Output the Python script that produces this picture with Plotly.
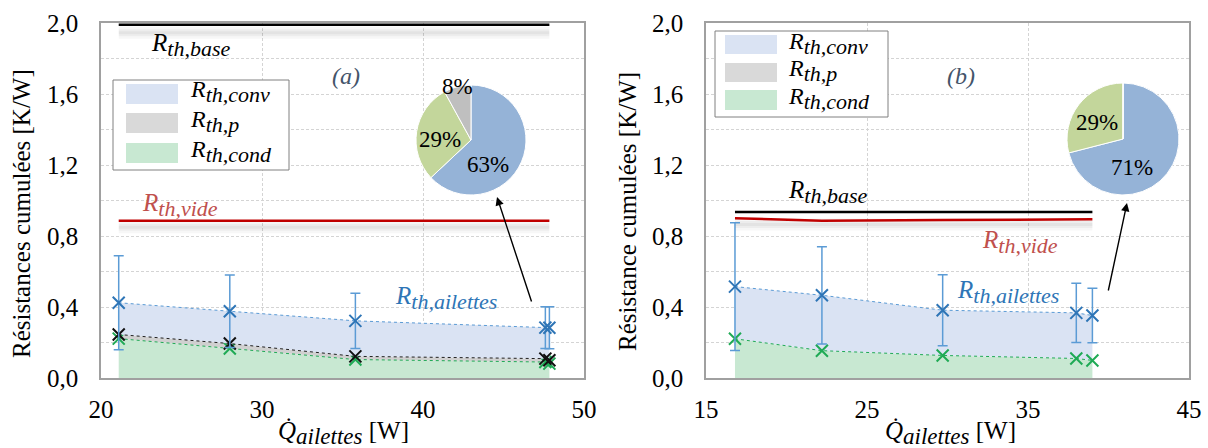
import plotly.graph_objects as go

W, H = 1208, 448

# ---------------- data ----------------
# Panel (a)
qa = [21.1, 28.0, 35.8, 47.6, 47.85]
ra_tot = [0.424, 0.376, 0.322, 0.284, 0.283]      # R_th,ailettes (cumulated total)
ra_err = [0.265, 0.204, 0.156, 0.118, 0.118]
ra_p = [0.245, 0.194, 0.122, 0.109, 0.100]         # cond + p (cumulated)
ra_cond = [0.222, 0.166, 0.104, 0.090, 0.081]
ra_base = [1.99, 1.99]
ra_vide = [0.886, 0.886]

# Panel (b)
qb = [16.8, 22.2, 29.7, 38.0, 39.0]
rb_tot = [0.515, 0.466, 0.382, 0.367, 0.352]
rb_err = [0.360, 0.274, 0.200, 0.167, 0.153]
rb_cond = [0.221, 0.154, 0.127, 0.110, 0.099]
rb_base = [0.935, 0.935]
rb_vide = [0.900, 0.886, 0.890, 0.893, 0.894]

# Pies
pie_labels = ["R_th,conv", "R_th,cond", "R_th,p"]
pie_a = [63, 29, 8]
pie_b = [71, 29, 0]

# ---------------- styles ----------------
BLUE = "#2E75B6"
BLUE_ERR = "#5B9BD5"
GREEN = "#1FAA55"
FILL_CONV = "#DAE3F3"
FILL_P = "#D0D0D0"
FILL_COND = "#C8E8D2"
RED = "#C00000"
SERIF = "Liberation Serif"


def X(p):
    return p / W


def Y(p):
    return 1 - p / H


def rlab(sub, subsize=22):
    return f"<i>R<sub><span style='font-size:{subsize}px'>{sub}</span></sub></i>"


fig = go.Figure()


def shadow(xs, ys, off, xa, ya):
    for w, a in [(12, 0.03), (7, 0.04), (3, 0.04)]:
        fig.add_trace(go.Scatter(x=xs, y=[v - off for v in ys], xaxis=xa, yaxis=ya, mode="lines",
                                 line=dict(color=f"rgba(0,0,0,{a})", width=w),
                                 showlegend=False, hoverinfo="skip"))


def marker(color):
    return dict(symbol="x-thin", size=12, line=dict(width=2, color=color))


# ----- panel (a) -----
shadow([qa[0], qa[-1]], ra_base, 0.045, "x", "y")
shadow([qa[0], qa[-1]], ra_vide, 0.036, "x", "y")
fig.add_trace(go.Scatter(x=qa, y=ra_cond, xaxis="x", yaxis="y", mode="lines+markers", fill="tozeroy",
                         fillcolor=FILL_COND, line=dict(color=GREEN, width=1, dash="dot"),
                         marker=marker(GREEN), showlegend=False))
fig.add_trace(go.Scatter(x=qa, y=ra_p, xaxis="x", yaxis="y", mode="lines+markers", fill="tonexty",
                         fillcolor=FILL_P, line=dict(color="#202020", width=1, dash="dot"),
                         marker=marker("#111111"), showlegend=False))
fig.add_trace(go.Scatter(x=qa, y=ra_tot, xaxis="x", yaxis="y", mode="lines+markers", fill="tonexty",
                         fillcolor=FILL_CONV, line=dict(color=BLUE_ERR, width=1, dash="dot"),
                         marker=marker(BLUE),
                         error_y=dict(type="data", array=ra_err, color=BLUE_ERR, thickness=1.5, width=5),
                         showlegend=False))
fig.add_trace(go.Scatter(x=[qa[0], qa[-1]], y=ra_base, xaxis="x", yaxis="y", mode="lines",
                         line=dict(color="black", width=2.5), showlegend=False))
fig.add_trace(go.Scatter(x=[qa[0], qa[-1]], y=ra_vide, xaxis="x", yaxis="y", mode="lines",
                         line=dict(color=RED, width=2.5), showlegend=False))

# ----- panel (b) -----
shadow([qb[0], qb[-1]], [rb_vide[0], rb_vide[0]], 0.035, "x2", "y2")
fig.add_trace(go.Scatter(x=qb, y=rb_cond, xaxis="x2", yaxis="y2", mode="lines+markers", fill="tozeroy",
                         fillcolor=FILL_COND, line=dict(color=GREEN, width=1, dash="dot"),
                         marker=marker(GREEN), showlegend=False))
fig.add_trace(go.Scatter(x=qb, y=rb_tot, xaxis="x2", yaxis="y2", mode="lines+markers", fill="tonexty",
                         fillcolor=FILL_CONV, line=dict(color=BLUE_ERR, width=1, dash="dot"),
                         marker=marker(BLUE),
                         error_y=dict(type="data", array=rb_err, color=BLUE_ERR, thickness=1.5, width=5),
                         showlegend=False))
fig.add_trace(go.Scatter(x=[qb[0], qb[-1]], y=rb_base, xaxis="x2", yaxis="y2", mode="lines",
                         line=dict(color="black", width=2.5), showlegend=False))
fig.add_trace(go.Scatter(x=qb, y=rb_vide, xaxis="x2", yaxis="y2", mode="lines",
                         line=dict(color=RED, width=2.5), showlegend=False))

# ----- pies -----
PIE_COLORS = ["#95B3D7", "#C3D69B", "#BFBFBF"]
fig.add_trace(go.Pie(values=pie_a, labels=pie_labels, sort=False, direction="clockwise", rotation=0,
                     marker=dict(colors=PIE_COLORS, line=dict(color="white", width=1)),
                     textinfo="none", hoverinfo="skip", showlegend=False,
                     domain=dict(x=[X(416), X(526)], y=[Y(195), Y(85)])))
fig.add_trace(go.Pie(values=pie_b, labels=pie_labels, sort=False, direction="clockwise", rotation=0,
                     marker=dict(colors=PIE_COLORS, line=dict(color="white", width=1)),
                     textinfo="none", hoverinfo="skip", showlegend=False,
                     domain=dict(x=[X(1067), X(1179)], y=[Y(195), Y(83)])))

# ---------------- axes ----------------
axis_common = dict(
    showline=True, mirror=True, linecolor="#A0A0A0", linewidth=1.5,
    showgrid=True, gridcolor="#D4D4D4", griddash="3px,2px", gridwidth=1,
    ticks="", zeroline=False, automargin=False,
    tickfont=dict(family=SERIF, size=25, color="black"),
)
yaxis_common = dict(axis_common, range=[0, 2], dtick=0.4, tick0=0, tickformat=".1f",
                    minor=dict(dtick=0.2, showgrid=True, gridcolor="#D4D4D4", griddash="3px,2px"),
                    ticklabelstandoff=16, domain=[Y(378), Y(23)])
fig.update_layout(
    width=W, height=H,
    margin=dict(l=0, r=0, t=0, b=0, pad=0, autoexpand=False),
    paper_bgcolor="white", plot_bgcolor="white",
    separators=", ",
    font=dict(family=SERIF),
    xaxis=dict(axis_common, range=[20, 50], dtick=10, domain=[X(101), X(584)], anchor="y",
               ticklabelstandoff=8),
    yaxis=dict(yaxis_common, anchor="x"),
    xaxis2=dict(axis_common, range=[15, 45], dtick=10, tick0=15, domain=[X(706), X(1189)], anchor="y2",
                ticklabelstandoff=8),
    yaxis2=dict(yaxis_common, anchor="x2"),
)

# ---------------- annotations ----------------
ann = []


def txt(x, y, text, size=25, color="black", angle=0, xanchor="center"):
    ann.append(dict(x=X(x), y=Y(y), xref="paper", yref="paper", text=text, showarrow=False,
                    xanchor=xanchor, yanchor="middle", textangle=angle,
                    font=dict(family=SERIF, size=size, color=color)))


# axis titles
txt(21, 214, "Résistances cumulées [K/W]", size=25, angle=-90)
txt(627, 212, "Résistance cumulées [K/W]", size=25, angle=-90)
xtitle = "<i>Q\u0307</i><sub><span style='font-size:23px'><i>ailettes</i></span></sub> [W]"
txt(343, 433, xtitle, size=25)
txt(950, 433, xtitle, size=25)

# labels panel (a)
txt(190, 45, rlab("th,base"))
txt(346, 76, "<i>(a)</i>", size=24, color="#44546A")
txt(180, 205, rlab("th,vide"), color="#C0504D")
txt(446, 298, rlab("th,ailettes"), color=BLUE)
# labels panel (b)
txt(828, 192, rlab("th,base"))
txt(961, 76, "<i>(b)</i>", size=24, color="#44546A")
txt(1020, 242, rlab("th,vide"), color="#C0504D")
txt(1008, 292, rlab("th,ailettes"), color=BLUE)

# pie labels
for (x, y), v in zip([(488, 164), (440, 139), (457, 86)], pie_a):
    txt(x, y, f"{v}%", size=23)
for (x, y), v in zip([(1132, 167), (1097, 123)], pie_b[:2]):
    txt(x, y, f"{v}%", size=23)

# arrows
ann.append(dict(x=X(497), y=Y(197), xref="paper", yref="paper", ax=35, ay=106, axref="pixel", ayref="pixel",
                showarrow=True, arrowhead=2, arrowsize=1.2, arrowwidth=1.4, arrowcolor="black", text=""))
ann.append(dict(x=X(1127), y=Y(203), xref="paper", yref="paper", ax=-19, ay=89, axref="pixel", ayref="pixel",
                showarrow=True, arrowhead=2, arrowsize=1.2, arrowwidth=1.4, arrowcolor="black", text=""))

# custom legends
shapes = []
legend_fills = [FILL_CONV, "#D9D9D9", FILL_COND]
legend_names = ["th,conv", "th,p", "th,cond"]


def legend(box, sw_x, sw_ys, text_x, text_ys):
    x0, y0, x1, y1 = box
    shapes.append(dict(type="rect", xref="paper", yref="paper", x0=X(x0), x1=X(x1), y0=Y(y1), y1=Y(y0),
                       line=dict(color="#808080", width=1), fillcolor="white", layer="above"))
    for (ya, yb), col, name, ty in zip(sw_ys, legend_fills, legend_names, text_ys):
        shapes.append(dict(type="rect", xref="paper", yref="paper", x0=X(sw_x[0]), x1=X(sw_x[1]),
                           y0=Y(yb), y1=Y(ya), line=dict(width=0), fillcolor=col, layer="above"))
        txt(text_x, ty, rlab(name), size=24, xanchor="left")


legend((113, 80, 289, 170), (126, 178), [(84, 104), (113, 133), (143, 163)], 188, [92, 121, 151])
legend((715, 31, 888, 117), (725, 777), [(35, 54), (63, 82), (90, 110)], 786, [43, 71, 99])

fig.update_layout(annotations=ann, shapes=shapes)

fig.write_html("out.html", config={"displayModeBar": False},
               post_script="document.body.style.margin='0';document.body.style.padding='0';")
